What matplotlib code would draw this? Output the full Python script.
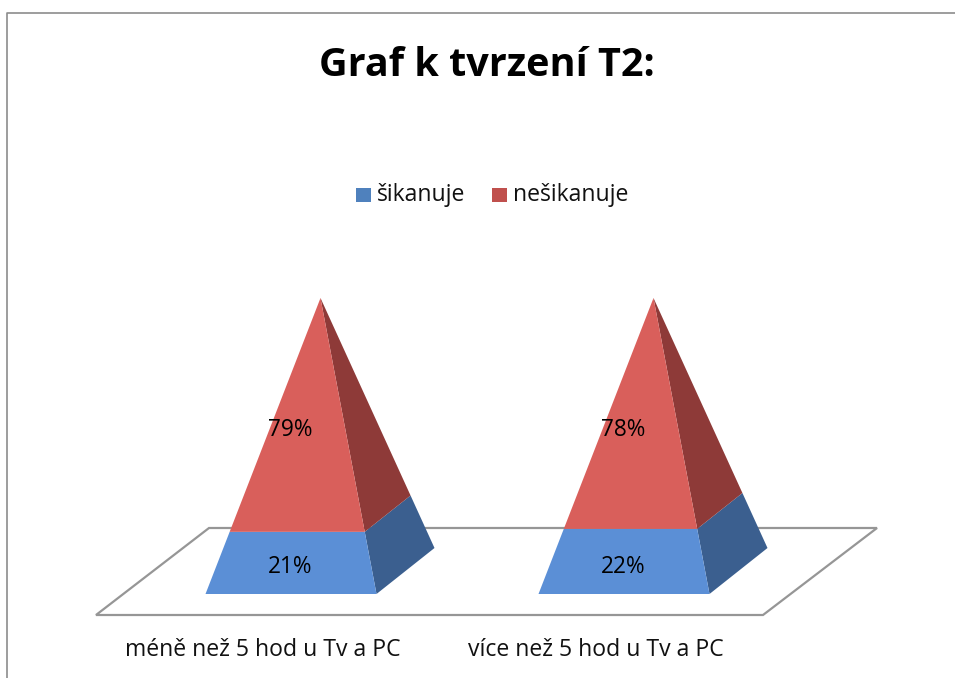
import matplotlib
matplotlib.use('Agg')
import matplotlib.pyplot as plt
from matplotlib.patches import Polygon

plt.rcParams['font.family'] = ['Open Sans', 'DejaVu Sans']

title = 'Graf k tvrzení T2:'
categories = ['méně než 5 hod u Tv a PC', 'více než 5 hod u Tv a PC']
series_names = ['šikanuje', 'nešikanuje']
sikanuje = [21, 22]
nesikanuje = [79, 78]

W, H = 955, 678
fig = plt.figure(figsize=(W / 100, H / 100), dpi=100)
ax = fig.add_axes([0, 0, 1, 1])
ax.set_xlim(0, W)
ax.set_ylim(H, 0)
ax.axis('off')

# ramecek
ax.plot([7, 7, W], [H, 13, 13], color='#8c8c8c', lw=1.2)

# podlaha
ax.add_patch(Polygon([(96, 615), (209, 528), (877, 528), (763, 615)], fc='white', ec='#969696', lw=1.6))

# podstava a spicka jehlanu
base_y, top_y = 594, 298
centers = [320.5, 653.5]
blue, red = '#5b8fd6', '#d95f5b'
blue_side, red_side = '#3b5f8f', '#8e3a38'

for cx, a, b, cat in zip(centers, sikanuje, nesikanuje, categories):
    left = (cx - 115, base_y)
    right = (cx + 56, base_y)
    back = (cx + 114, 548)
    apex = (cx, top_y)
    t = a / (a + b)
    t_left = (left[0] + (apex[0] - left[0]) * t, left[1] + (apex[1] - left[1]) * t)
    t_right = (right[0] + (apex[0] - right[0]) * t, right[1] + (apex[1] - right[1]) * t)
    t_back = (back[0] + (apex[0] - back[0]) * t, back[1] + (apex[1] - back[1]) * t)
    ax.add_patch(Polygon([right, back, t_back, t_right], fc=blue_side, ec='none'))
    ax.add_patch(Polygon([t_right, t_back, apex], fc=red_side, ec='none'))
    ax.add_patch(Polygon([left, right, t_right, t_left], fc=blue, ec='none'))
    ax.add_patch(Polygon([t_left, t_right, apex], fc=red, ec='none'))
    ax.text(cx - 30, 567, f'{a}%', ha='center', va='center', fontsize=16.3, color='black')
    ax.text(cx - 30, 430, f'{b}%', ha='center', va='center', fontsize=16.3, color='black')
    ax.text(cx - 58, 650, cat, ha='center', va='center', fontsize=16.6, color='#111111')

ax.text(487, 65, title, ha='center', va='center', fontsize=28.5, fontweight='bold', color='black')

# legenda
ax.add_patch(Polygon([(356, 188), (371, 188), (371, 202), (356, 202)], fc='#4f81bd', ec='none'))
ax.text(377, 195, series_names[0], ha='left', va='center', fontsize=16.6, color='#111111')
ax.add_patch(Polygon([(492, 188), (507, 188), (507, 202), (492, 202)], fc='#c0504d', ec='none'))
ax.text(513, 195, series_names[1], ha='left', va='center', fontsize=16.6, color='#111111')

fig.savefig('out.png', dpi=100)
